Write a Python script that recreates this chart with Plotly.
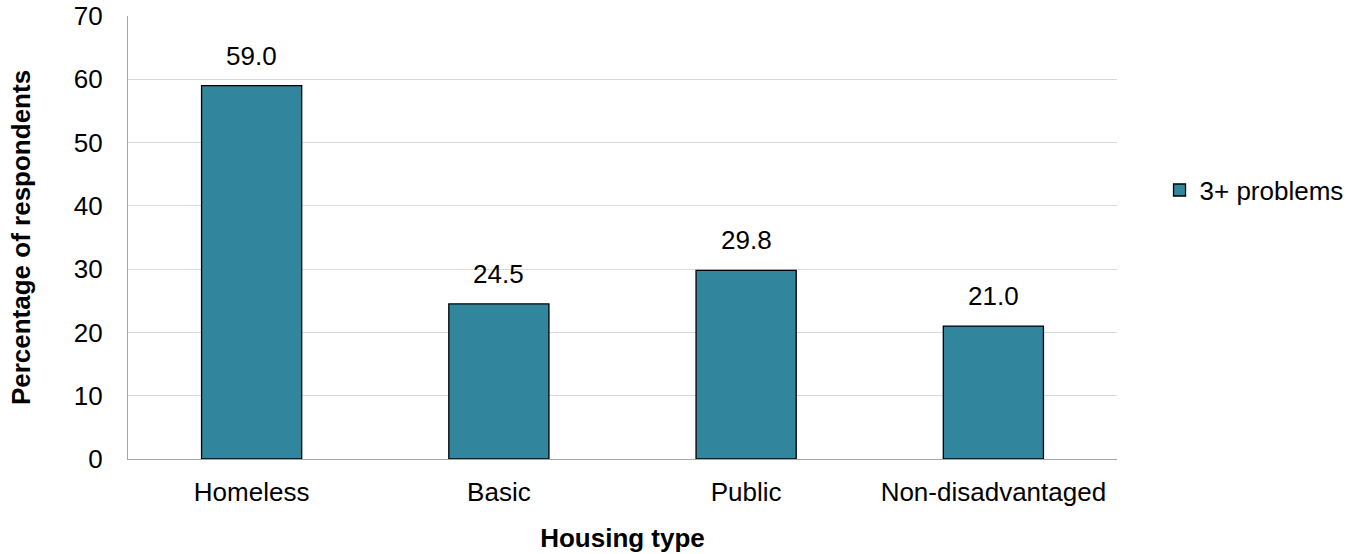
import plotly.graph_objects as go

categories = ["Homeless", "Basic", "Public", "Non-disadvantaged"]
values = [59.0, 24.5, 29.8, 21.0]
series_name = "3+ problems"
y_ticks = [0, 10, 20, 30, 40, 50, 60, 70]

FONT = "Liberation Sans, Arial, sans-serif"
FS = 26
BAR = "#31859C"

fig = go.Figure()
fig.add_trace(go.Bar(
    x=categories, y=values, name=series_name,
    marker=dict(color=BAR, line=dict(color="#000000", width=1.3)),
    width=0.405, showlegend=True,
))

for c, v in zip(categories, values):
    fig.add_annotation(x=c, y=v, text=f"{v:.1f}", showarrow=False,
                       yanchor="bottom", yshift=13,
                       font=dict(family=FONT, size=FS, color="#000000"))

fig.update_layout(
    width=1349, height=554,
    margin=dict(l=128, r=232, t=16, b=95, autoexpand=False),
    paper_bgcolor="white", plot_bgcolor="white",
    font=dict(family=FONT, size=FS, color="#000000"),
    showlegend=True,
    legend=dict(x=1.043, y=0.607, xanchor="left", yanchor="middle",
                font=dict(family=FONT, size=FS), itemwidth=30,
                bgcolor="rgba(0,0,0,0)"),
    bargap=0.6,
    xaxis=dict(
        showline=True, linecolor="#A6A6A6", linewidth=1.3, automargin=False,
        showgrid=False, ticks="", ticklabelstandoff=10,
        title=dict(text="<b>Housing type</b>", standoff=22,
                   font=dict(family=FONT, size=FS)),
    ),
    yaxis=dict(
        range=[0, 70], tickvals=y_ticks, automargin=False,
        showline=True, linecolor="#A6A6A6", linewidth=1.3,
        showgrid=True, gridcolor="#D9D9D9", gridwidth=1,
        zeroline=False, ticks="", ticklabelstandoff=19,
        title=dict(text="<b>Percentage of respondents</b>", standoff=35,
                   font=dict(family=FONT, size=FS)),
    ),
)

fig.write_html("out.html")
